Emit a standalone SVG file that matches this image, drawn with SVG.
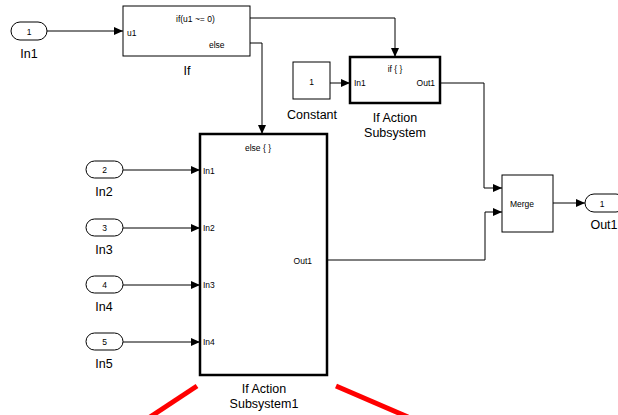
<svg xmlns="http://www.w3.org/2000/svg" width="618" height="415" viewBox="0 0 618 415">
<defs>
<marker id="arr" markerWidth="9" markerHeight="8" refX="9" refY="4" orient="auto" markerUnits="userSpaceOnUse">
<path d="M0,0 L9,4 L0,8 Z" fill="#000"/>
</marker>
</defs>
<style>
.blk{fill:#fff;stroke:#000;stroke-width:1}
.thk{fill:#fff;stroke:#000;stroke-width:2.5}
.port{fill:#fff;stroke:#000;stroke-width:1}
.ln{fill:none;stroke:#000;stroke-width:1}
.lab{font-family:"Liberation Sans",Arial,sans-serif;font-size:12.5px;fill:#000;text-anchor:middle}
.sm{font-family:"Liberation Sans",Arial,sans-serif;font-size:8.5px;fill:#000}
.red{stroke:#ff0000;stroke-width:5;fill:none}
</style>
<rect width="618" height="415" fill="#fff"/>
<g id="connectors">
<path class="ln" d="M47,31 H123" marker-end="url(#arr)"/>
<path class="ln" d="M250,18 H395 V57" marker-end="url(#arr)"/>
<path class="ln" d="M250,43 H262 V134" marker-end="url(#arr)"/>
<path class="ln" d="M330,83 H350" marker-end="url(#arr)"/>
<path class="ln" d="M440,83 H484 V188 H502" marker-end="url(#arr)"/>
<path class="ln" d="M327,260 H485 V212 H502" marker-end="url(#arr)"/>
<path class="ln" d="M553,203 H585" marker-end="url(#arr)"/>
<path class="ln" d="M123,170 H200" marker-end="url(#arr)"/>
<path class="ln" d="M123,228 H200" marker-end="url(#arr)"/>
<path class="ln" d="M123,285 H200" marker-end="url(#arr)"/>
<path class="ln" d="M123,342 H200" marker-end="url(#arr)"/>
</g>
<g id="In1">
<rect class="port" x="11" y="22" width="36" height="18" rx="9"/>
<text class="sm" x="29" y="34.5" text-anchor="middle">1</text>
<text class="lab" x="29" y="58">In1</text>
</g>
<g id="If">
<rect class="blk" x="123" y="6" width="127" height="50"/>
<text class="sm" x="176" y="22">if(u1 ~= 0)</text>
<text class="sm" x="127" y="36">u1</text>
<text class="sm" x="209" y="48">else</text>
<text class="lab" x="187" y="75">If</text>
</g>
<g id="Constant">
<rect class="blk" x="293" y="62" width="37" height="37"/>
<text class="sm" x="311.5" y="85" text-anchor="middle">1</text>
<text class="lab" x="312" y="119">Constant</text>
</g>
<g id="IfActionSubsystem">
<rect class="thk" x="350" y="57" width="90" height="46"/>
<text class="sm" x="395" y="72" text-anchor="middle">if { }</text>
<text class="sm" x="354" y="86">In1</text>
<text class="sm" x="435" y="86" text-anchor="end">Out1</text>
<text class="lab" x="395" y="122">If Action</text>
<text class="lab" x="395" y="137">Subsystem</text>
</g>
<g id="IfActionSubsystem1">
<rect class="thk" x="200" y="134" width="127" height="241"/>
<text class="sm" x="258" y="151" text-anchor="middle">else { }</text>
<text class="sm" x="203" y="174">In1</text>
<text class="sm" x="203" y="231">In2</text>
<text class="sm" x="203" y="288">In3</text>
<text class="sm" x="203" y="345">In4</text>
<text class="sm" x="312" y="264" text-anchor="end">Out1</text>
<text class="lab" x="264" y="393">If Action</text>
<text class="lab" x="264" y="408">Subsystem1</text>
</g>
<g id="Merge">
<rect class="blk" x="502" y="175" width="51" height="57"/>
<text class="sm" x="522" y="207" text-anchor="middle">Merge</text>
</g>
<g id="Out1">
<rect class="port" x="585" y="194" width="40" height="18" rx="9"/>
<text class="sm" x="602" y="206.5" text-anchor="middle">1</text>
<text class="lab" x="604" y="229">Out1</text>
</g>
<g id="In2">
<rect class="port" x="86" y="161" width="37" height="17" rx="8.5"/>
<text class="sm" x="104.5" y="173" text-anchor="middle">2</text>
<text class="lab" x="104" y="196">In2</text>
</g>
<g id="In3">
<rect class="port" x="86" y="219" width="37" height="17" rx="8.5"/>
<text class="sm" x="104.5" y="231" text-anchor="middle">3</text>
<text class="lab" x="104" y="254">In3</text>
</g>
<g id="In4">
<rect class="port" x="86" y="276" width="37" height="17" rx="8.5"/>
<text class="sm" x="104.5" y="288" text-anchor="middle">4</text>
<text class="lab" x="104" y="311">In4</text>
</g>
<g id="In5">
<rect class="port" x="86" y="333" width="37" height="17" rx="8.5"/>
<text class="sm" x="104.5" y="345" text-anchor="middle">5</text>
<text class="lab" x="104" y="368">In5</text>
</g>
<g id="redmarks">
<line class="red" x1="197" y1="386" x2="150" y2="417"/>
<line class="red" x1="336" y1="386" x2="408" y2="417"/>
</g>
</svg>
